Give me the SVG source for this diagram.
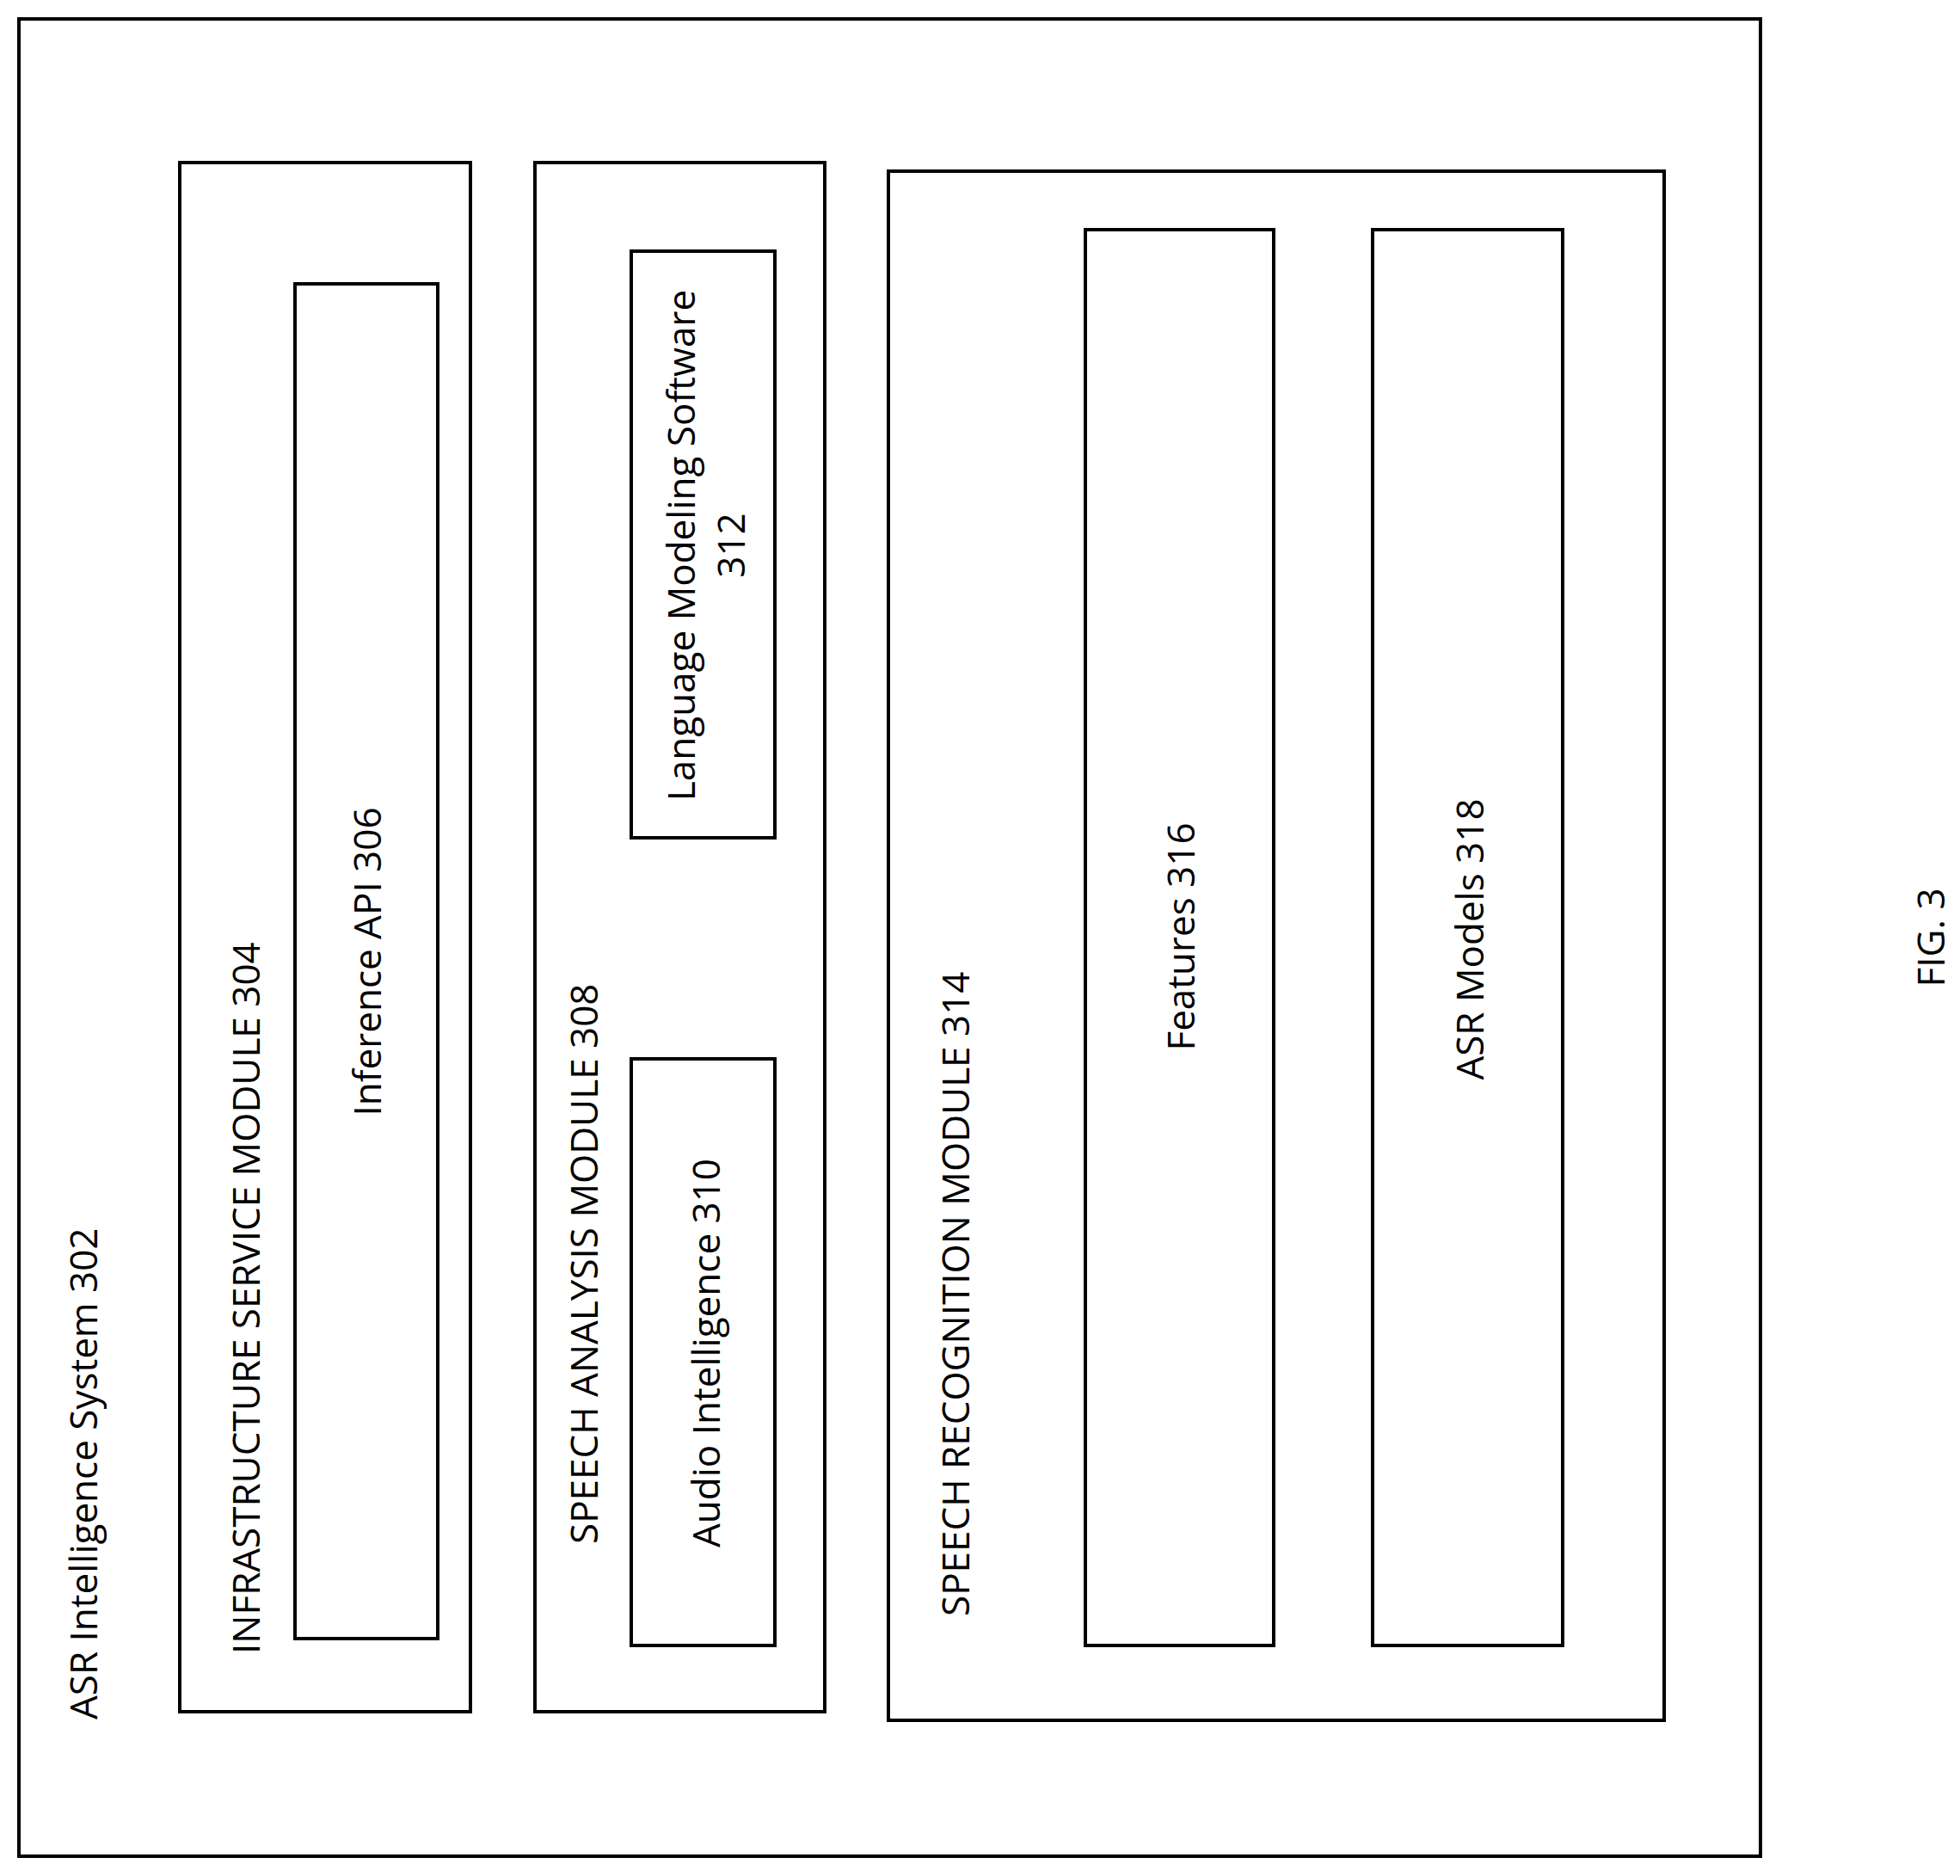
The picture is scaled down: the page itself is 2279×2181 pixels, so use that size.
<svg xmlns="http://www.w3.org/2000/svg" width="2279" height="2181" viewBox="0 0 2279 2181">
<style>
rect{fill:none;stroke:#000;stroke-width:4}
text{font-family:"Open Sans","Liberation Sans",sans-serif;font-size:44px;fill:#000}
.m{text-anchor:middle}
</style>
<rect width="2279" height="2181" style="fill:#fff;stroke:none"/>
<g id="n302"><rect x="22" y="22" width="2025" height="2136"/><text transform="translate(113,1999) rotate(-90)">ASR Intelligence System 302</text></g>
<g id="n304"><rect x="209" y="189" width="338" height="1801"/><text transform="translate(302,1923) rotate(-90)">INFRASTRUCTURE SERVICE MODULE 304</text></g>
<g id="n306"><rect x="343" y="330" width="166" height="1575"/><text class="m" transform="translate(443,1118) rotate(-90)">Inference API 306</text></g>
<g id="n308"><rect x="622" y="189" width="337" height="1801"/><text transform="translate(695,1795) rotate(-90)">SPEECH ANALYSIS MODULE 308</text></g>
<g id="n312"><rect x="734" y="292" width="167" height="682"/><text class="m" transform="translate(808,634) rotate(-90)">Language Modeling Software</text><text class="m" transform="translate(866,634) rotate(-90)">312</text></g>
<g id="n310"><rect x="734" y="1231" width="167" height="682"/><text class="m" transform="translate(837,1573) rotate(-90)">Audio Intelligence 310</text></g>
<g id="n314"><rect x="1033" y="199" width="902" height="1801"/><text transform="translate(1127,1879) rotate(-90)">SPEECH RECOGNITION MODULE 314</text></g>
<g id="n316"><rect x="1262" y="267" width="219" height="1646"/><text class="m" transform="translate(1389,1089) rotate(-90)">Features 316</text></g>
<g id="n318"><rect x="1596" y="267" width="221" height="1646"/><text class="m" transform="translate(1725,1092) rotate(-90)">ASR Models 318</text></g>
<g id="connectors"/>
<text class="m" transform="translate(2261,1090) rotate(-90)">FIG. 3</text>
</svg>
